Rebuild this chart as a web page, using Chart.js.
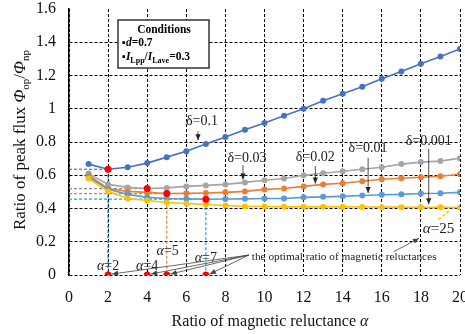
<!DOCTYPE html>
<html><head><meta charset="utf-8">
<script src="https://cdn.jsdelivr.net/npm/chart.js@4/dist/chart.umd.min.js"></script>
<style>html,body{margin:0;padding:0;background:#fff}#wrap{width:465px;height:334px}</style>
</head><body><div id="wrap"><canvas id="c" width="465" height="334"></canvas></div>
<script>
const alphas = [1,2,3,4,5,6,7,8,9,10,11,12,13,14,15,16,17,18,19,20];
const deltaLabels = ['δ=0.1','δ=0.03','δ=0.02','δ=0.01','δ=0.001'];
const ratioD0_1   = [0.667,0.636,0.648,0.673,0.709,0.745,0.788,0.830,0.873,0.915,0.958,1.000,1.048,1.090,1.133,1.180,1.224,1.270,1.315,1.360];
const ratioD0_03  = [0.610,0.545,0.527,0.520,0.524,0.533,0.539,0.545,0.557,0.570,0.580,0.600,0.612,0.624,0.636,0.648,0.667,0.679,0.685,0.703];
const ratioD0_02  = [0.600,0.520,0.503,0.497,0.490,0.491,0.493,0.497,0.503,0.515,0.520,0.533,0.545,0.552,0.564,0.576,0.582,0.588,0.594,0.606];
const ratioD0_01  = [0.590,0.515,0.485,0.467,0.460,0.458,0.456,0.457,0.458,0.460,0.460,0.467,0.470,0.473,0.478,0.483,0.485,0.490,0.492,0.497];
const ratioD0_001 = [0.580,0.503,0.460,0.448,0.436,0.430,0.424,0.418,0.412,0.412,0.410,0.410,0.410,0.410,0.409,0.408,0.408,0.407,0.407,0.406];
const optAlpha = [2,4,5,7];
const optRatio = [0.636,0.520,0.490,0.456];
const xTicks = [0,2,4,6,8,10,12,14,16,18,20];
const yTicks = [0,0.2,0.4,0.6,0.8,1,1.2,1.4,1.6];

const seriesColors = ['#4472C4','#A5A5A5','#ED7D31','#5B9BD5','#FFC000'];
const refColors = ['#0070C0','#8C8C8C','#ED7D31','#00B0F0'];
const seriesData = [ratioD0_1, ratioD0_03, ratioD0_02, ratioD0_01, ratioD0_001];

const datasets = [];
optAlpha.forEach((a,i)=>{
  const pts = [{x:0,y:optRatio[i]},{x:a,y:optRatio[i]}];
  if (i!==1) pts.push({x:a,y:0});
  datasets.push({data:pts, showLine:true, borderColor:refColors[i], borderWidth:1.2, borderDash:[3,2], pointRadius:0, order:10});
});
for (let i=seriesData.length-1;i>=0;i--){
  datasets.push({label:deltaLabels[i], data:alphas.map((a,j)=>({x:a,y:seriesData[i][j]})), showLine:true,
    borderColor:seriesColors[i], backgroundColor:seriesColors[i], borderWidth:1.6, pointRadius:3, pointBorderWidth:0, order:5-i});
}
datasets.push({data:optAlpha.map((a,i)=>({x:a,y:optRatio[i]})).concat(optAlpha.map(a=>({x:a,y:0}))),
  showLine:false, backgroundColor:'#FF0000', borderColor:'#FF0000', pointRadius:3.5, pointBorderWidth:0, order:-1});

const SERIF = '"Liberation Serif","Times New Roman",serif';

function arrow(ctx,x1,y1,x2,y2,col){
  ctx.save();
  ctx.strokeStyle=col; ctx.fillStyle=col; ctx.lineWidth=0.8;
  ctx.beginPath(); ctx.moveTo(x1,y1); ctx.lineTo(x2,y2); ctx.stroke();
  const ang=Math.atan2(y2-y1,x2-x1), L=6, W=2.6;
  ctx.beginPath(); ctx.moveTo(x2,y2);
  ctx.lineTo(x2-L*Math.cos(ang)+W*Math.sin(ang), y2-L*Math.sin(ang)-W*Math.cos(ang));
  ctx.lineTo(x2-L*Math.cos(ang)-W*Math.sin(ang), y2-L*Math.sin(ang)+W*Math.cos(ang));
  ctx.closePath(); ctx.fill();
  ctx.restore();
}
function alphaText(ctx,cx,by,val,size){
  ctx.font='italic '+size+'px '+SERIF; const w1=ctx.measureText('α').width;
  ctx.font=size+'px '+SERIF; const s='='+val; const w2=ctx.measureText(s).width;
  let x=cx-(w1+w2)/2;
  ctx.textAlign='left'; ctx.textBaseline='alphabetic';
  ctx.font='italic '+size+'px '+SERIF; ctx.fillText('α',x,by);
  ctx.font=size+'px '+SERIF; ctx.fillText(s,x+w1,by);
}

const annot = {
  id:'annot',
  afterDatasetsDraw(chart){
    const ctx=chart.ctx, xs=chart.scales.x, ys=chart.scales.y;
    const X=v=>xs.getPixelForValue(v), Y=v=>ys.getPixelForValue(v);
    ctx.save();
    ctx.fillStyle='#222'; ctx.textAlign='center'; ctx.textBaseline='alphabetic';
    ctx.font='14px '+SERIF;
    const dl=[[6.8,0.905,6.6,0.865,0.81],[9.1,0.68,8.9,0.66,0.575],[12.6,0.685,12.6,0.655,0.55],[15.3,0.74,15.3,0.705,0.493],[18.4,0.78,18.4,0.76,0.425]];
    dl.forEach((d,i)=>{
      ctx.fillText(deltaLabels[i], X(d[0]), Y(d[1]));
      arrow(ctx, X(d[2]), Y(d[3]), X(d[2]), Y(d[4]), '#222');
    });
    ctx.fillStyle='#222';
    alphaText(ctx, X(2), Y(0.03), '2', 14);
    alphaText(ctx, X(4), Y(0.03), '4', 14);
    alphaText(ctx, X(5.05), Y(0.12), '5', 14);
    alphaText(ctx, X(7), Y(0.08), '7', 14);
    ctx.font='11.3px '+SERIF; ctx.textAlign='left';
    ctx.fillText('the optimal ratio of magnetic reluctances', X(9.35), Y(0.09));
    const sx=X(9.2), sy=Y(0.12);
    optAlpha.forEach(a=>arrow(ctx, sx, sy, X(a)+4, Y(0)-1, '#444'));
    arrow(ctx, X(16.6), Y(0.14), X(17.9), Y(0.22), '#444');
    ctx.save(); ctx.strokeStyle='#FFC000'; ctx.lineWidth=1.5; ctx.setLineDash([3,2]);
    ctx.beginPath(); ctx.moveTo(X(18.9),Y(0.335)); ctx.lineTo(X(19.45),Y(0.385)); ctx.stroke(); ctx.restore();
    ctx.fillStyle='#222';
    alphaText(ctx, X(18.9), Y(0.25), '25', 15);
    ctx.restore();
  },
  afterDraw(chart){
    const ctx=chart.ctx;
    ctx.save();
    ctx.fillStyle='#fff'; ctx.fillRect(118,20,91,48);
    ctx.strokeStyle='#333'; ctx.lineWidth=1.5; ctx.strokeRect(118,20,91,48);
    ctx.fillStyle='#000'; ctx.textBaseline='alphabetic';
    ctx.font='bold 11.5px '+SERIF; ctx.textAlign='center'; ctx.fillText('Conditions',164,33);
    ctx.textAlign='left';
    let x=122;
    ctx.font='bold 11px '+SERIF; ctx.fillText('▪',x,46); x+=ctx.measureText('▪').width;
    ctx.font='bold italic 11.5px '+SERIF; ctx.fillText('d',x,46); x+=ctx.measureText('d').width;
    ctx.font='bold 11.5px '+SERIF; ctx.fillText('=0.7',x,46);
    x=122;
    ctx.font='bold 11px '+SERIF; ctx.fillText('▪',x,60); x+=ctx.measureText('▪').width;
    ctx.font='bold italic 11.5px '+SERIF; ctx.fillText('I',x,60); x+=ctx.measureText('I').width;
    ctx.font='bold 8px '+SERIF; ctx.fillText('Lpp',x,63); x+=ctx.measureText('Lpp').width;
    ctx.font='bold 11.5px '+SERIF; ctx.fillText('/',x,60); x+=ctx.measureText('/').width;
    ctx.font='bold italic 11.5px '+SERIF; ctx.fillText('I',x,60); x+=ctx.measureText('I').width;
    ctx.font='bold 8px '+SERIF; ctx.fillText('Lave',x,63); x+=ctx.measureText('Lave').width;
    ctx.font='bold 11.5px '+SERIF; ctx.fillText('=0.3',x,60);

    ctx.fillStyle='#111';
    ctx.font='16px '+SERIF; const t1='Ratio of magnetic reluctance '; const w1=ctx.measureText(t1).width;
    ctx.font='italic 16px '+SERIF; const w2=ctx.measureText('α').width;
    let xs=270-(w1+w2)/2;
    ctx.font='16px '+SERIF; ctx.fillText(t1,xs,326);
    ctx.font='italic 16px '+SERIF; ctx.fillText('α',xs+w1,326);

    const parts=[['Ratio of peak flux ','17px',0],['Φ','italic 17px',0],['op','11px',4],['/','17px',0],['Φ','italic 17px',0],['np','11px',4]];
    let tot=0; parts.forEach(p=>{ctx.font=p[1]+' '+SERIF; tot+=ctx.measureText(p[0]).width;});
    ctx.translate(25,140); ctx.rotate(-Math.PI/2);
    let px=-tot/2;
    parts.forEach(p=>{ctx.font=p[1]+' '+SERIF; ctx.fillText(p[0],px,p[2]); px+=ctx.measureText(p[0]).width;});
    ctx.restore();
  }
};

new Chart(document.getElementById('c'),{
  type:'scatter',
  data:{datasets},
  options:{
    responsive:false, animation:false, devicePixelRatio:1,
    layout:{padding:{top:9,right:5,left:0,bottom:0}, autoPadding:false},
    plugins:{legend:{display:false}, tooltip:{enabled:false}},
    scales:{
      x:{type:'linear', min:0, max:20,
        afterBuildTicks:s=>{s.ticks=xTicks.map(v=>({value:v}));},
        afterFit:s=>{s.height=59; s.paddingLeft=0; s.paddingRight=0;},
        ticks:{padding:13, color:'#111', font:{family:SERIF,size:16}, maxRotation:0, autoSkip:false},
        grid:{color:'#000', lineWidth:1, drawTicks:false},
        border:{display:false, dash:[3,2]}
      },
      y:{type:'linear', min:0, max:1.6,
        afterBuildTicks:s=>{s.ticks=yTicks.map(v=>({value:v}));},
        afterFit:s=>{s.width=69; s.paddingTop=0; s.paddingBottom=0;},
        ticks:{padding:13, color:'#111', font:{family:SERIF,size:16}, autoSkip:false,
          callback:v=>String(Math.round(v*10)/10)},
        grid:{color:c=>(c.tick && c.tick.value>1.59)?'rgba(0,0,0,0)':'#000', lineWidth:1, drawTicks:false},
        border:{display:true, color:'#000', width:1.5, dash:[3,2]}
      }
    }
  },
  plugins:[annot]
});
</script></body></html>
